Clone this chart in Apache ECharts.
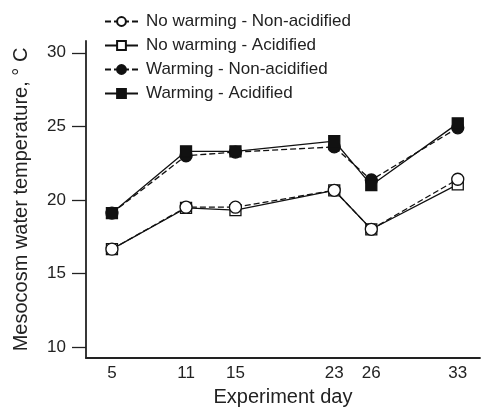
<!DOCTYPE html>
<html><head><meta charset="utf-8">
<script src="https://cdn.jsdelivr.net/npm/echarts@6/dist/echarts.min.js"></script>
<style>html,body{margin:0;padding:0;background:#fff}#c{width:481px;height:409px}</style>
</head><body><div id="c"></div>
<script>
const days = [5, 11, 15, 23, 26, 33];
const yTicks = [10, 15, 20, 25, 30];
const seriesNames = ['No warming - Non-acidified', 'No warming - Acidified', 'Warming - Non-acidified', 'Warming - Acidified'];
const noWarmNonAcid = [16.65, 19.5, 19.5, 20.65, 18.0, 21.4];
const noWarmAcid = [16.65, 19.45, 19.3, 20.65, 18.0, 21.05];
const warmNonAcid = [19.1, 23.0, 23.25, 23.6, 21.35, 24.9];
const warmAcid = [19.1, 23.3, 23.3, 24.0, 21.0, 25.2];

const font = 'Liberation Sans, Arial, sans-serif';
function mk(name, vals, symbol, filled, dashed, z) {
  return {
    name: name, type: 'line', z: z,
    data: days.map((d, i) => [d, vals[i]]),
    symbol: symbol, symbolSize: symbol === 'circle' ? 12 : 11,
    itemStyle: { color: filled ? '#111' : '#fff', borderColor: '#111', borderWidth: 1.3 },
    lineStyle: { color: '#111', width: 1.3, type: dashed ? [6, 3] : 'solid' },
    emphasis: { disabled: true }
  };
}
const chart = echarts.init(document.getElementById('c'), null, { renderer: 'canvas' });
chart.setOption({
  animation: false,
  backgroundColor: '#fff',
  grid: { left: 86, right: 1, top: 41, bottom: 51, containLabel: false, outerBoundsMode: 'none' },
  legend: {
    orient: 'vertical', left: 99, top: 8, itemGap: 7, itemWidth: 33, itemHeight: 11,
    textStyle: { fontFamily: font, fontSize: 17, lineHeight: 17, color: '#222', padding: [0, 0, 0, 3] },
    data: seriesNames
  },
  xAxis: {
    type: 'value', min: 2.9, max: 34.8,
    name: 'Experiment day', nameLocation: 'middle', nameGap: 29,
    nameTextStyle: { fontFamily: font, fontSize: 20, color: '#222' },
    axisLine: { lineStyle: { color: '#222', width: 1.8 } },
    axisTick: { show: false },
    splitLine: { show: false },
    axisLabel: { customValues: days, fontFamily: font, fontSize: 17, color: '#222', margin: 7 }
  },
  yAxis: {
    type: 'value', min: 9.25, max: 30.8,
    name: 'Mesocosm water temperature, ° C', nameLocation: 'middle', nameGap: 55,
    nameTextStyle: { fontFamily: font, fontSize: 20, color: '#222' },
    axisLine: { show: true, lineStyle: { color: '#222', width: 1.8 } },
    axisTick: { show: true, customValues: yTicks, length: 14, lineStyle: { color: '#222', width: 1.3 } },
    splitLine: { show: false },
    axisLabel: { customValues: yTicks, fontFamily: font, fontSize: 17, color: '#222', margin: 20 }
  },
  series: [
    mk(seriesNames[0], noWarmNonAcid, 'circle', false, true, 3),
    mk(seriesNames[1], noWarmAcid, 'rect', false, false, 2),
    mk(seriesNames[2], warmNonAcid, 'circle', true, true, 4),
    mk(seriesNames[3], warmAcid, 'rect', true, false, 5)
  ]
});
</script></body></html>
